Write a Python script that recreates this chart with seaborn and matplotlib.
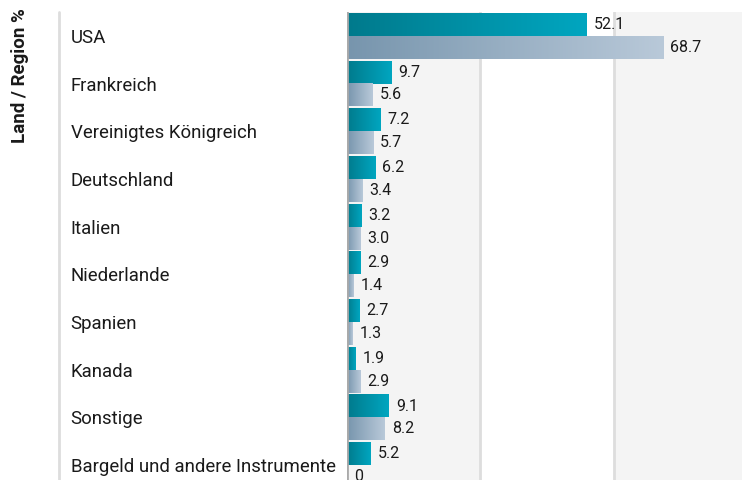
import numpy as np
import pandas as pd
import seaborn as sns
from matplotlib import pyplot as plt
from matplotlib.colors import LinearSegmentedColormap
from matplotlib.lines import Line2D

laender = ['USA', 'Frankreich', 'Vereinigtes Königreich', 'Deutschland', 'Italien',
           'Niederlande', 'Spanien', 'Kanada', 'Sonstige', 'Bargeld und andere Instrumente']
fonds = [52.1, 9.7, 7.2, 6.2, 3.2, 2.9, 2.7, 1.9, 9.1, 5.2]
index = [68.7, 5.6, 5.7, 3.4, 3.0, 1.4, 1.3, 2.9, 8.2, 0.0]
serien = ['Fonds', 'Index']

data = pd.DataFrame({
    'Land': laender * 2,
    'Serie': [serien[0]] * len(laender) + [serien[1]] * len(laender),
    'Wert': fonds + index,
})

sns.set_theme(style='white')
plt.rcParams['font.family'] = ['Roboto', 'DejaVu Sans']

fig = plt.figure(figsize=(7.42, 4.80), dpi=100)
# axes laeuft unten ueber den Bildrand hinaus (wie im Original abgeschnitten)
ax = fig.add_axes([347 / 742, -9 / 480, 1 - 347 / 742, 477 / 480])

xmax = 395 / 4.6
ax.axvspan(0, 29, color='#f4f4f4', zorder=0)
ax.axvspan(58, xmax, color='#f4f4f4', zorder=0)
for g in [29, 58]:
    ax.axvline(g, color='#dddddd', lw=2, zorder=0.5)

sns.barplot(data=data, y='Land', x='Wert', hue='Serie', orient='h',
            width=0.96, legend=False, ax=ax, zorder=2)

cmaps = [LinearSegmentedColormap.from_list('teal', ['#007a8c', '#00a6c0']),
         LinearSegmentedColormap.from_list('grau', ['#7795ad', '#b9c9d9'])]
grad = np.linspace(0, 1, 256).reshape(1, -1)
for cont, cmap in zip(ax.containers, cmaps):
    for p in cont:
        x0, y0 = p.get_x(), p.get_y()
        w, h = p.get_width(), p.get_height()
        p.set_alpha(0)
        if w <= 0:
            continue
        ax.imshow(grad, cmap=cmap, aspect='auto', extent=[x0, x0 + w, y0 + h, y0],
                  zorder=2, interpolation='bicubic')
    ax.bar_label(cont, labels=['0' if v == 0 else f'{v:.1f}' for v in cont.datavalues],
                 padding=5, fontsize=11.5, color='#1a1a1a')

ax.set_xlim(0, xmax)
ax.set_ylim(len(laender) - 0.5, -0.5)
ax.axvline(0, color='#aaaaaa', lw=2, zorder=3)
for s in ax.spines.values():
    s.set_visible(False)
ax.set_xticks([])
ax.set_xlabel('')
ax.set_ylabel('')
ax.tick_params(axis='y', length=0, pad=199, labelsize=13.4, labelcolor='#1a1a1a')
for lab in ax.get_yticklabels():
    lab.set_horizontalalignment('left')

fig.add_artist(Line2D([59 / 742, 59 / 742], [0, 1 - 12 / 480], transform=fig.transFigure,
                      color='#dddddd', lw=2))
fig.text(20 / 742, 1 - 8 / 480, 'Land / Region %', rotation=90, ha='center', va='top',
         fontsize=13.5, fontweight='bold', color='#1a1a1a')

fig.savefig('out.png', dpi=100)
